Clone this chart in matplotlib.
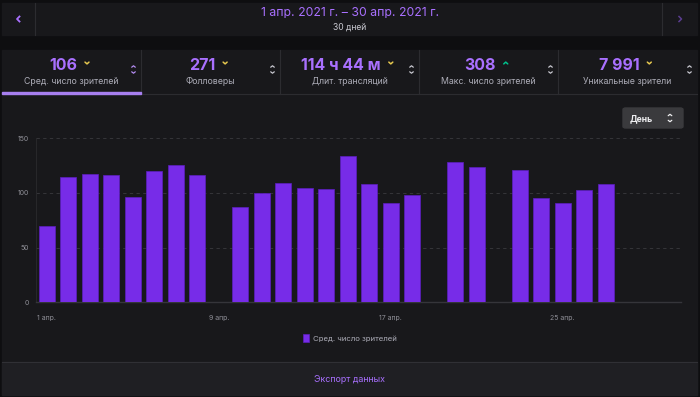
import numpy as np
import matplotlib
matplotlib.use("Agg")
import matplotlib.pyplot as plt
from matplotlib.patches import Rectangle, FancyBboxPatch
from matplotlib.lines import Line2D

W, H = 700, 397

# daily average viewers, April 2021 (None = no stream that day)
days = list(range(1, 31))
avg_viewers = [70, 115, 117, 116, 96, 120, 126, 116, None, 87,
               100, 109, 105, 104, 134, 108, 91, 98, None, 128,
               124, None, 121, 95, 91, 103, 108, None, None, None]
tick_days = [1, 9, 17, 25]
tick_labels = ["1 апр.", "9 апр.", "17 апр.", "25 апр."]
y_ticks = [0, 50, 100, 150]

stat_values = ["106", "271", "114 ч 44 м", "308", "7 991"]
stat_labels = ["Сред. число зрителей", "Фолловеры", "Длит. трансляций",
               "Макс. число зрителей", "Уникальные зрители"]
stat_trend = ["down", "down", "down", "up", "down"]

BG = "#0e0e10"
PANEL = "#18181b"
LINE = "#2c2c30"
PURPLE = "#772ce8"
TEXT_PURPLE = "#a970ff"
GREY = "#adadb8"

plt.rcParams['font.family'] = ['Inter', 'DejaVu Sans']

fig = plt.figure(figsize=(W / 100, H / 100), dpi=100, facecolor=BG)
renderer = fig.canvas.get_renderer()


# helpers working in pixel coords (origin top-left)
def fx(x):
    return x / W


def fy(y):
    return 1 - y / H


def rect(x0, y0, x1, y1, color, z=-2):
    fig.patches.append(Rectangle((fx(x0), fy(y1)), (x1 - x0) / W, (y1 - y0) / H,
                                 transform=fig.transFigure, color=color, zorder=z))


def hline(x0, x1, y, color=LINE, lw=0.8):
    fig.lines.append(Line2D([fx(x0), fx(x1)], [fy(y), fy(y)], transform=fig.transFigure,
                            color=color, lw=lw, zorder=-1))


def vline(x, y0, y1, color=LINE, lw=0.8):
    fig.lines.append(Line2D([fx(x), fx(x)], [fy(y0), fy(y1)], transform=fig.transFigure,
                            color=color, lw=lw, zorder=-1))


def chevron(x, y, up, color, w=2.2, h=1.6, lw=1.0):
    dy = h if up else -h
    fig.lines.append(Line2D([fx(x - w), fx(x), fx(x + w)],
                            [fy(y + dy / 2), fy(y - dy / 2), fy(y + dy / 2)],
                            transform=fig.transFigure, color=color, lw=lw,
                            solid_capstyle="round", solid_joinstyle="round"))


def sort_icon(x, y, color):
    chevron(x, y - 3, True, color, w=1.8, h=1.4, lw=0.9)
    chevron(x, y + 3, False, color, w=1.8, h=1.4, lw=0.9)


def txt(x, y, s, **kw):
    return fig.text(fx(x), fy(y), s, ha=kw.pop("ha", "center"), va=kw.pop("va", "center"), **kw)


# top date selector
rect(2, 3, 697, 35, PANEL)
vline(35, 3, 35)
vline(662, 3, 35)
fig.lines.append(Line2D([fx(19.5), fx(17), fx(19.5)], [fy(16.5), fy(19), fy(21.5)],
                        transform=fig.transFigure, color=TEXT_PURPLE, lw=1.3))
fig.lines.append(Line2D([fx(679), fx(681.5), fx(679)], [fy(16.5), fy(19), fy(21.5)],
                        transform=fig.transFigure, color="#5a3d8f", lw=1.1))
txt(350, 13, "1 апр. 2021 г. – 30 апр. 2021 г.", color=TEXT_PURPLE, fontsize=8.8)
txt(350, 27.5, "30 дней", color="#c8c8d0", fontsize=6.2)

# main panel
rect(2, 50, 697, 395, PANEL)
rect(2, 362, 697, 395, "#1f1f23")
hline(2, 697, 362, color="#303035")
hline(2, 697, 94)
tab_w = 695 / 5
for i in range(5):
    x0 = 2 + i * tab_w
    if i > 0:
        vline(x0, 50, 94)
    cx = x0 + tab_w / 2
    t = txt(cx - 8.5, 66, stat_values[i], color=TEXT_PURPLE, fontsize=11.5,
            fontweight="bold")
    bb = t.get_window_extent(renderer)
    right = bb.x1 / fig.dpi * 100
    if stat_trend[i] == "down":
        chevron(right + 10, 63, False, "#e6c84f", w=2.0, h=1.8, lw=1.1)
    else:
        chevron(right + 10, 63, True, "#00c28c", w=2.0, h=1.8, lw=1.1)
    txt(cx, 81, stat_labels[i], color=GREY, fontsize=6.3)
    sort_icon(x0 + tab_w - 7.5, 69.5, "#c8c8d0" if i else "#b48cf2")
rect(2, 91.5, 2 + tab_w, 94, "#a77ff0", z=2)

# "День" button
fig.patches.append(FancyBboxPatch((fx(623), fy(128)), 60 / W, 20 / H,
                                  boxstyle="round,pad=0,rounding_size=0.004",
                                  transform=fig.transFigure, color="#3a3a3d", zorder=-1))
txt(630, 118.5, "День", ha="left", color="#efeff1", fontsize=6.2, fontweight="bold")
sort_icon(670, 118, "#efeff1")

# export
txt(350, 379, "Экспорт данных", color=TEXT_PURPLE, fontsize=6.4)

# chart
ax = fig.add_axes([fx(36), fy(302.3), (681 - 36) / W, 164 / H])
ax.set_zorder(3)
ax.set_facecolor("none")
x = [d for d, v in zip(days, avg_viewers) if v is not None]
v = [v for v in avg_viewers if v is not None]
bars = ax.bar(x, v, width=0.73, color=PURPLE, edgecolor="#5c1fbf", linewidth=0.5,
              label="Сред. число зрителей", zorder=3)
ax.set_xlim(0.5, 30.5)
ax.set_ylim(0, 150)
ax.set_yticks(y_ticks)
ax.set_yticklabels([str(t) for t in y_ticks])
ax.set_xticks(tick_days)
ax.set_xticklabels(tick_labels)
ax.tick_params(axis="both", length=0, labelsize=5, colors="#8e8e96")
ax.tick_params(axis="x", pad=9)
ax.tick_params(axis="y", pad=5)
ax.grid(axis="y", color="#3a3a3e", linestyle=(0, (4, 4)), linewidth=0.6, zorder=0)
for s in ["top", "right"]:
    ax.spines[s].set_visible(False)
ax.spines["bottom"].set_color("#35353a")
ax.spines["bottom"].set_linewidth(1.0)
ax.spines["left"].set_color("#2a2a2e")
ax.spines["left"].set_linewidth(0.6)

leg = fig.legend(handles=[bars], loc="center", bbox_to_anchor=(fx(350), fy(338)),
                 frameon=False, fontsize=5.6, labelcolor=GREY, handlelength=0.75,
                 handleheight=1.1, handletextpad=0.5)

fig.savefig("out.png", dpi=100, facecolor=BG)
